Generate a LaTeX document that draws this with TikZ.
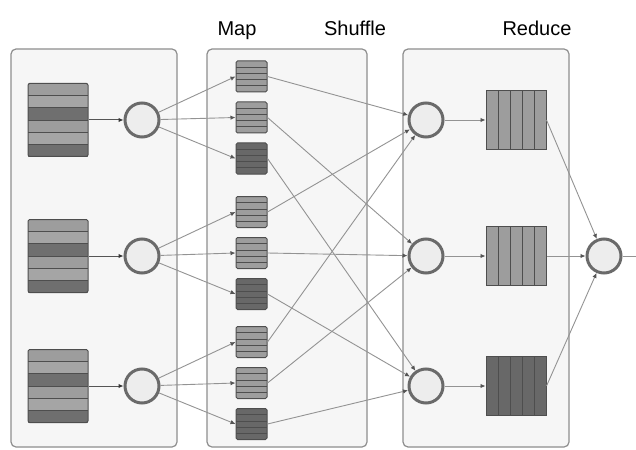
\documentclass[tikz,border=0pt]{standalone}
\usepackage{fontspec}
\setmainfont{Liberation Sans}
\usetikzlibrary{arrows.meta,calc}
\definecolor{panelline}{HTML}{8E8E8E}
\definecolor{panelfill}{HTML}{F6F6F6}
\definecolor{circline}{HTML}{6A6A6A}
\definecolor{circfill}{HTML}{EDEDED}
\definecolor{linegray}{HTML}{939393}
\definecolor{arrowdark}{HTML}{555555}
\definecolor{boxline}{HTML}{4E4E4E}
\definecolor{lightst}{HTML}{9D9D9D}
\definecolor{lightst2}{HTML}{A5A5A5}
\definecolor{darkst}{HTML}{6F6F6F}
\definecolor{darkbox}{HTML}{686868}
\tikzset{
  panel/.style={draw=panelline, fill=panelfill, line width=1.2pt, rounded corners=5pt},
  lbl/.style={font=\fontsize{20}{24}\selectfont, anchor=base, inner sep=0pt},
  circ/.style={circle, draw=circline, fill=circfill, line width=3pt, minimum size=34pt, inner sep=0pt},
  inbox/.style={draw=boxline, line width=1pt, rectangle, rounded corners=1.5pt, minimum width=60pt, minimum height=73pt, inner sep=0pt},
  mapbox/.style={draw=boxline, line width=1pt, rectangle, rounded corners=1.5pt, minimum width=31pt, minimum height=31pt, inner sep=0pt},
  redbox/.style={draw=boxline, line width=1pt, rectangle, minimum width=60pt, minimum height=59pt, inner sep=0pt},
  sep/.style={draw=boxline, line width=0.7pt},
  conn/.style={draw=linegray, line width=0.9pt, -{Latex[length=5pt,width=4.5pt,color=arrowdark]}},
  feed/.style={draw=arrowdark, line width=1pt, -{Latex[length=5pt,width=4.5pt,color=black!80]}},
}
\begin{document}
\begin{tikzpicture}[x=1pt,y=-1pt]
\useasboundingbox (0,0) rectangle (636,449);
\fill[white] (0,0) rectangle (636,449);
% panels
\draw[panel] (11,49) rectangle (177,447);
\draw[panel] (207,49) rectangle (367,447);
\draw[panel] (403,49) rectangle (569,447);
% labels
\node[lbl] (lmap) at (237,36) {Map};
\node[lbl] (lshuf) at (355,36) {Shuffle};
\node[lbl] (lred) at (537,36) {Reduce};
% input boxes and map circles
\foreach \n/\cy in {1/120,2/256,3/386} {
  \foreach \i/\c in {0/lightst,1/lightst2,2/darkst,3/lightst,4/lightst2,5/darkst}
    \fill[\c] (28,{\cy-36.5+\i*12.1667}) rectangle (88,{\cy-36.5+(\i+1)*12.1667});
  \foreach \i in {1,...,5}
    \draw[sep] (28,{\cy-36.5+\i*12.1667}) -- (88,{\cy-36.5+\i*12.1667});
  \node[inbox] (in\n) at (58,\cy) {};
  \node[circ] (m\n) at (142,\cy) {};
  \draw[feed] (in\n.east) -- (m\n.west);
}
% map boxes
\foreach \n/\cy/\c in {1/76.5/lightst,2/117.5/lightst,3/158.5/darkbox,4/212/lightst,5/253/lightst,6/294/darkbox,7/342/lightst,8/383/lightst,9/424/darkbox} {
  \fill[\c, rounded corners=1.5pt] (236,{\cy-15.5}) rectangle (267,{\cy+15.5});
  \foreach \i in {1,...,4}
    \draw[sep] (236,{\cy-15.5+\i*6.2}) -- (267,{\cy-15.5+\i*6.2});
  \node[mapbox] (b\n) at (251.5,\cy) {};
}
% reduce circles and boxes
\foreach \n/\cy/\c in {1/120/lightst,2/256/lightst,3/386/darkbox} {
  \node[circ] (r\n) at (426,\cy) {};
  \fill[\c] (486,{\cy-29.5}) rectangle (546,{\cy+29.5});
  \foreach \i in {1,...,4}
    \draw[sep] ({486+\i*12},{\cy-29.5}) -- ({486+\i*12},{\cy+29.5});
  \node[redbox] (rb\n) at (516,\cy) {};
  \draw[conn] (r\n.east) -- (rb\n.west);
}
% final circle
\node[circ] (fin) at (604,256) {};
\coordinate (out) at (636,256);
% map arrows
\draw[conn] (m1) -- (b1.west);
\draw[conn] (m1) -- (b2.west);
\draw[conn] (m1) -- (b3.west);
\draw[conn] (m2) -- (b4.west);
\draw[conn] (m2) -- (b5.west);
\draw[conn] (m2) -- (b6.west);
\draw[conn] (m3) -- (b7.west);
\draw[conn] (m3) -- (b8.west);
\draw[conn] (m3) -- (b9.west);
% shuffle arrows
\draw[conn] (b1.east) -- (r1);
\draw[conn] (b2.east) -- (r2);
\draw[conn] (b3.east) -- (r3);
\draw[conn] (b4.east) -- (r1);
\draw[conn] (b5.east) -- (r2);
\draw[conn] (b6.east) -- (r3);
\draw[conn] (b7.east) -- (r1);
\draw[conn] (b8.east) -- (r2);
\draw[conn] (b9.east) -- (r3);
% reduce output
\draw[conn] (rb1.east) -- (fin);
\draw[conn] (rb2.east) -- (fin);
\draw[conn] (rb3.east) -- (fin);
\draw[draw=linegray, line width=0.9pt] (fin.east) -- (out);
\end{tikzpicture}
\end{document}
